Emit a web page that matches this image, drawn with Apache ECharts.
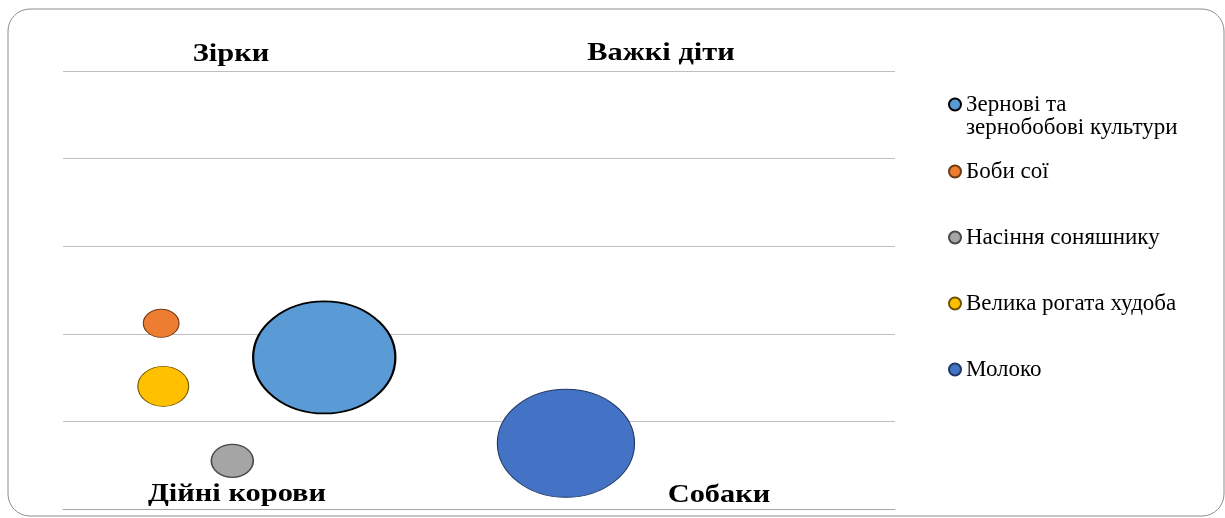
<!DOCTYPE html>
<html>
<head>
<meta charset="utf-8">
<script src="https://cdn.jsdelivr.net/npm/echarts@6/dist/echarts.min.js"></script>
<style>
  html, body { margin: 0; padding: 0; background: #fff; }
  #bcgChart { width: 1225px; height: 518px; }
</style>
</head>
<body>
<div id="bcgChart"></div>
<script>
// series names (legend order)
var names = ['Зернові та зернобобові культури', 'Боби сої', 'Насіння соняшнику', 'Велика рогата худоба', 'Молоко'];
// relative market share (x)
var shareValues = [0.628, 0.236, 0.407, 0.241, 1.209];
// market growth (y)
var growthValues = [1.73, 2.12, 0.55, 1.40, 0.75];
// bubble volume
var volumeValues = [100, 6.3, 8.7, 12.8, 93];
// quadrant captions
var quadrantLabels = ['Зірки', 'Важкі діти', 'Дійні корови', 'Собаки'];

var fills = ['#5b9bd5', '#ed7d31', '#a5a5a5', '#ffc000', '#4472c4'];
var borders = ['#000000', '#6e3a14', '#4a4a4a', '#6e5200', '#1f3864'];
var borderWidths = [2, 1, 1.5, 1, 1];
var serifFont = '"Liberation Serif", "Times New Roman", serif';

var myChart = echarts.init(document.getElementById('bcgChart'));

function bubbleSize(val) {
  var h = 11.2 * Math.sqrt(val[2]);
  return [h * 1.27, h];
}

function quadrantText(label, x, y) {
  return {
    type: 'text',
    x: x,
    y: y,
    scaleX: 1.17,
    style: {
      text: label,
      x: 0,
      y: 0,
      align: 'center',
      verticalAlign: 'middle',
      font: 'bold 26px ' + serifFont,
      fill: '#000'
    }
  };
}

myChart.setOption({
  animation: false,
  grid: {
    left: 63,
    right: 330,
    top: 71,
    bottom: 9
  },
  xAxis: {
    type: 'value',
    min: 0,
    max: 2,
    axisLine: { show: true, lineStyle: { color: '#a6a6a6' } },
    axisTick: { show: false },
    axisLabel: { show: false },
    splitLine: { show: false }
  },
  yAxis: {
    type: 'value',
    min: 0,
    max: 5,
    interval: 1,
    axisLine: { show: false },
    axisTick: { show: false },
    axisLabel: { show: false },
    splitLine: { lineStyle: { color: '#bfbfbf', width: 1 } }
  },
  legend: [
    {
      data: [names[0]],
      orient: 'vertical',
      left: 948,
      top: 70,
      padding: 0,
      icon: 'circle',
      itemWidth: 12,
      itemHeight: 12,
      // blank first line keeps the icon level with the first text line
      formatter: function () {
        return '\u00a0\nЗернові та\nзернобобові культури';
      },
      textStyle: {
        fontFamily: serifFont,
        fontSize: 23,
        lineHeight: 23,
        color: '#000'
      }
    },
    {
      data: names.slice(1),
      orient: 'vertical',
      left: 948,
      top: 160,
      padding: 0,
      itemGap: 43,
      icon: 'circle',
      itemWidth: 12,
      itemHeight: 12,
      textStyle: {
        fontFamily: serifFont,
        fontSize: 23,
        lineHeight: 23,
        color: '#000'
      }
    }
  ],
  graphic: [
    {
      type: 'rect',
      shape: { x: 8, y: 9, width: 1216, height: 507, r: 22 },
      style: { fill: 'none', stroke: '#8c8c8c', lineWidth: 1 },
      silent: true
    },
    quadrantText(quadrantLabels[0], 231, 54),
    quadrantText(quadrantLabels[1], 661, 53),
    quadrantText(quadrantLabels[2], 237, 494),
    quadrantText(quadrantLabels[3], 719, 495)
  ],
  series: names.map(function (name, i) {
    return {
      name: name,
      type: 'scatter',
      symbol: 'circle',
      symbolSize: bubbleSize,
      itemStyle: {
        color: fills[i],
        borderColor: borders[i],
        borderWidth: borderWidths[i],
        opacity: 1
      },
      data: [[shareValues[i], growthValues[i], volumeValues[i]]]
    };
  })
});
</script>
</body>
</html>
